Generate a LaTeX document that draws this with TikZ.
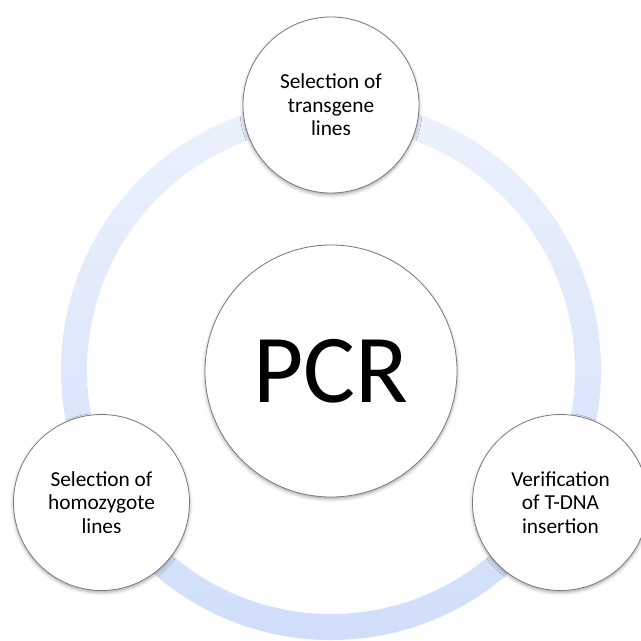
\documentclass[tikz,border=0pt]{standalone}
\usepackage{fontspec}
\setmainfont{Carlito}
\usetikzlibrary{shadows.blur}
\definecolor{ringtop}{HTML}{ECF1FC}
\definecolor{ringbot}{HTML}{D0DEFA}
\definecolor{rimgray}{HTML}{7A7A7A}
\tikzset{
    bubble/.style={circle, draw=rimgray, line width=0.6pt, fill=white,
        minimum size=132pt, inner sep=0pt, align=center,
        font=\fontsize{16}{17.5}\selectfont,
        blur shadow={shadow xshift=0pt, shadow yshift=-1.5pt,
            shadow blur radius=2.5pt, shadow opacity=35}},
    hub/.style={bubble, minimum size=189pt, font=\fontsize{73}{80}\selectfont},
}

\begin{document}
\begin{tikzpicture}[x=0.75pt, y=0.75pt]
    \useasboundingbox (-331,-270) rectangle (310,370);

    % the cycle ring
    \path[top color=ringtop, bottom color=ringbot, even odd rule]
        (0,0) circle (202.5pt) (0,0) circle (183pt);

    \node[hub] (pcr) at (0,-1) {PCR};

    \node[bubble] (trans) at (90:265) {Selection of\\transgene\\lines};
    \node[bubble] (tdna) at (-30:265) {Verification\\of T-DNA\\insertion};
    \node[bubble] (homo) at (210:265) {Selection of\\homozygote\\lines};
\end{tikzpicture}
\end{document}
